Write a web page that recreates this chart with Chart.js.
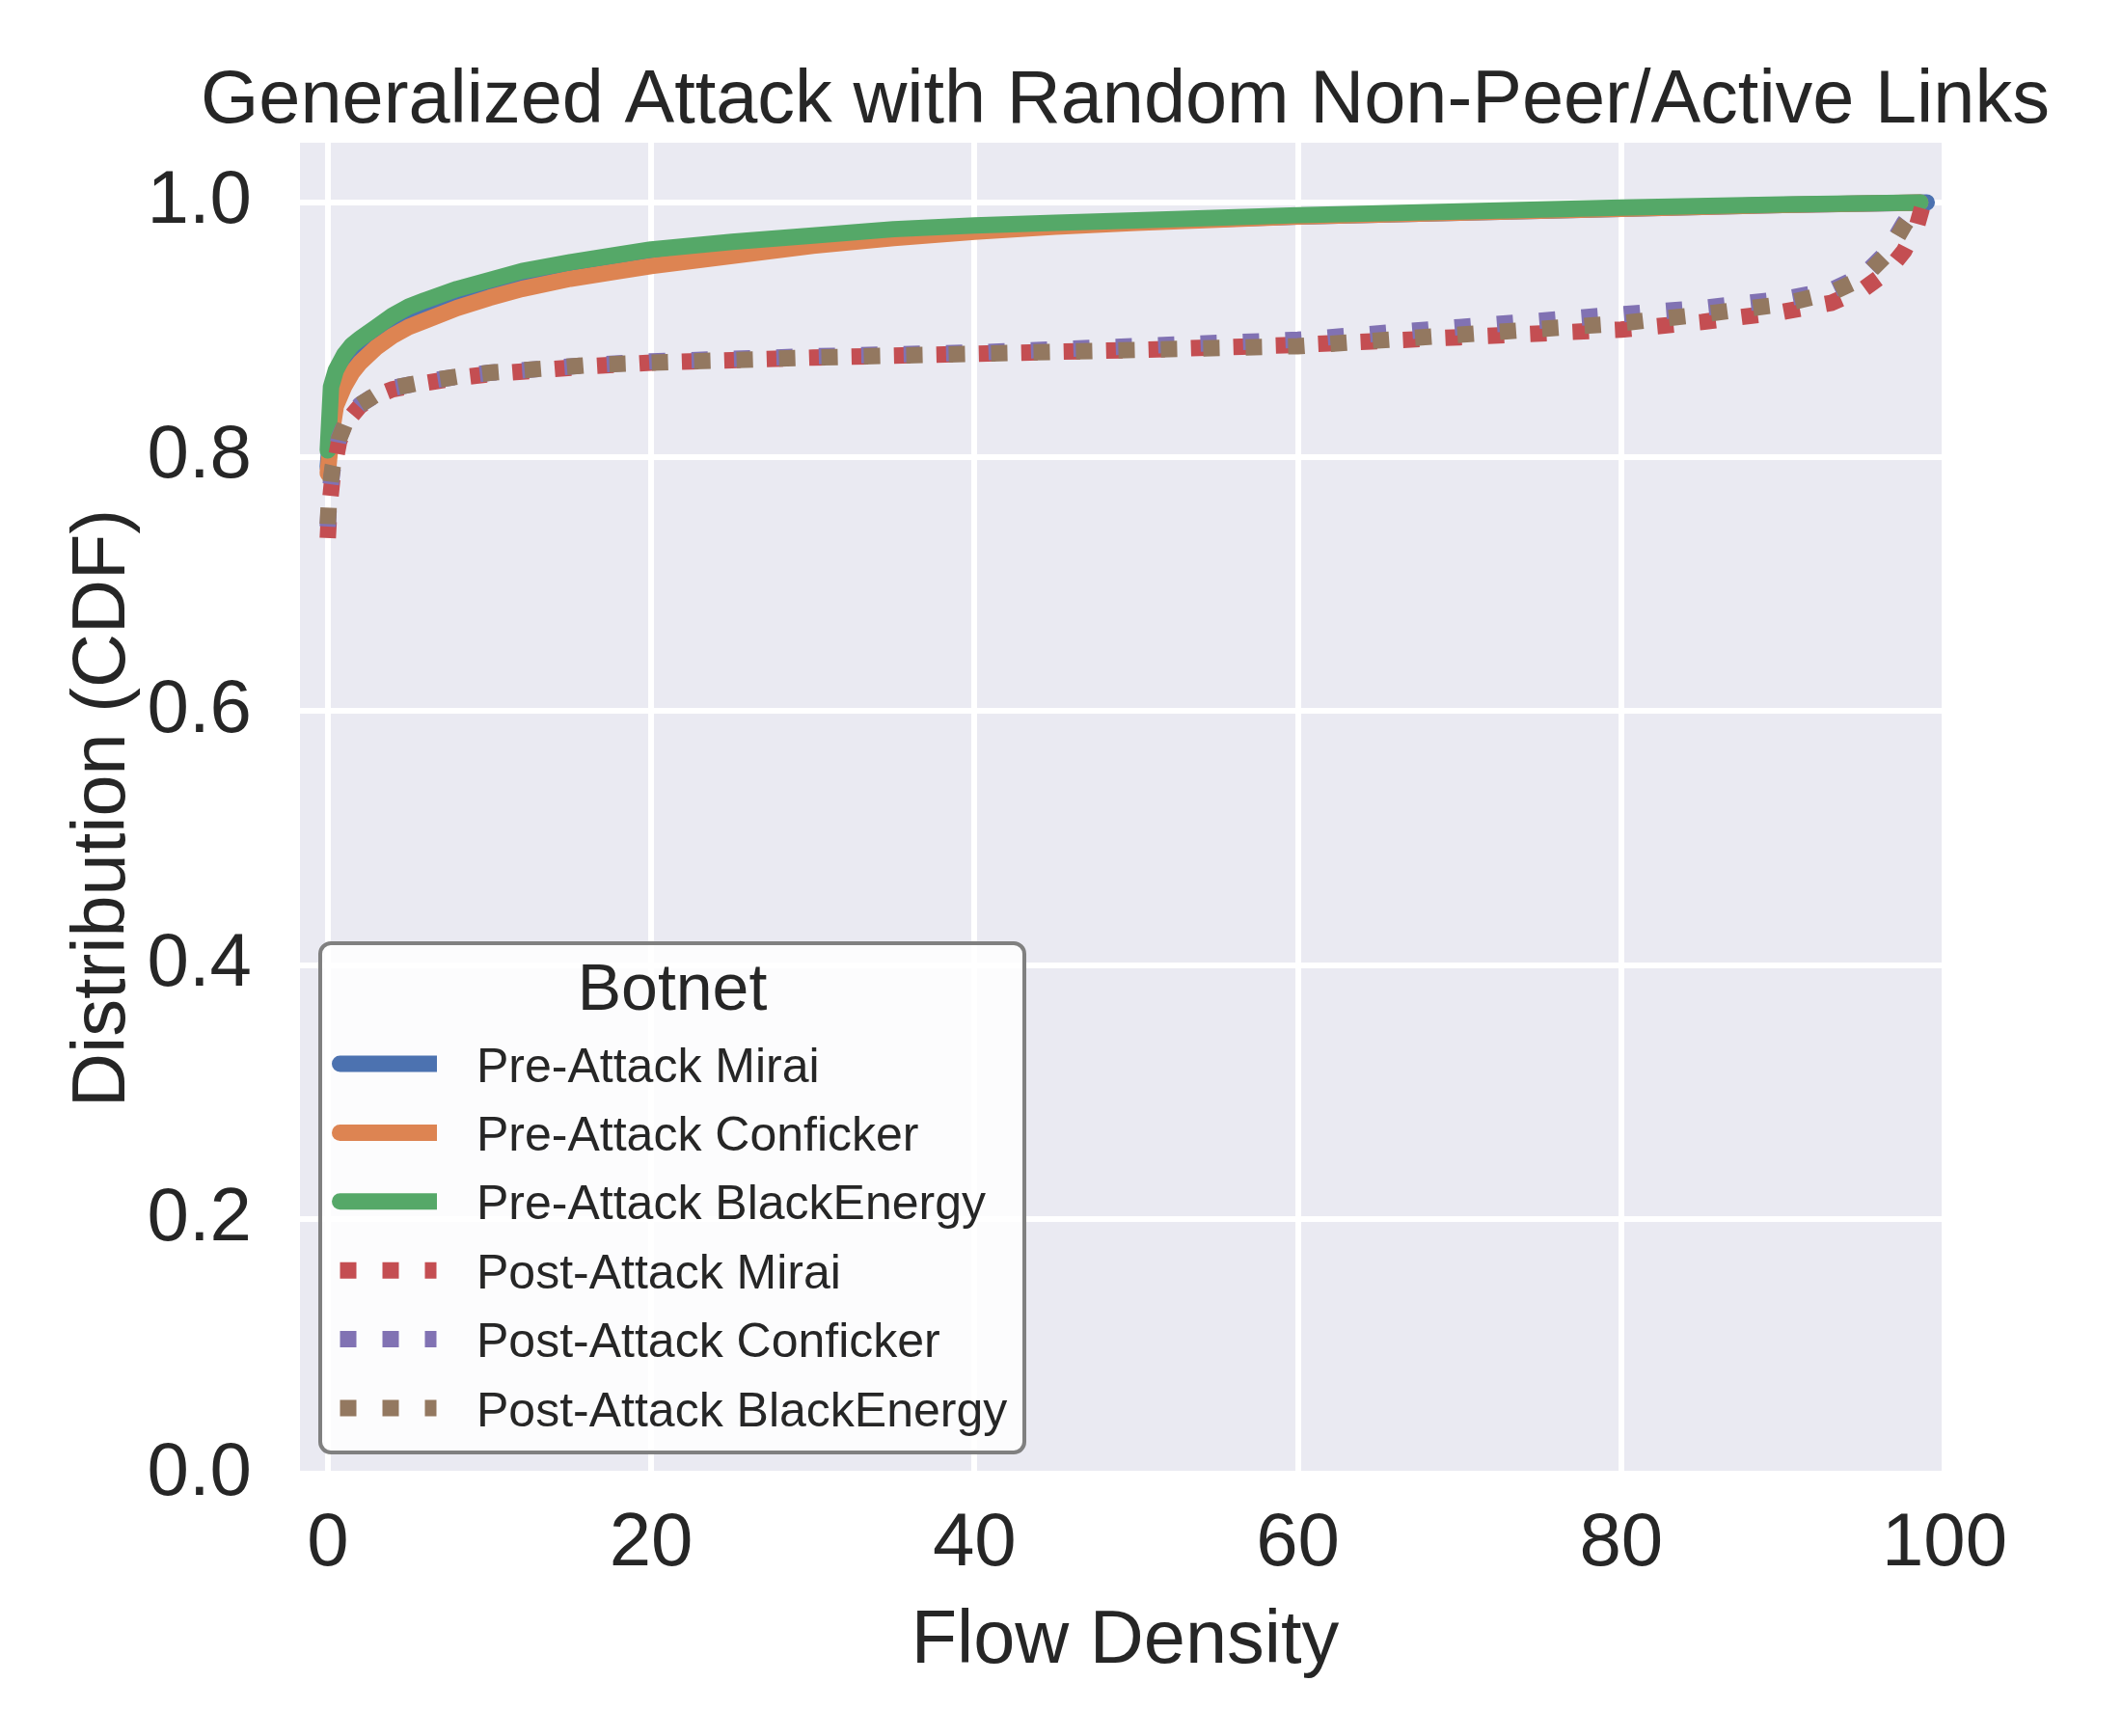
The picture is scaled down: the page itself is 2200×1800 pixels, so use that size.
<!DOCTYPE html>
<html>
<head>
<meta charset="utf-8">
<script src="https://cdn.jsdelivr.net/npm/chart.js@4.4.1/dist/chart.umd.min.js"></script>
<style>
  html, body { margin: 0; padding: 0; background: #fff; }
  canvas { display: block; }
</style>
</head>
<body>
<canvas id="cdf" width="2200" height="1800" style="width:2200px;height:1800px"></canvas>
<script>
/* ================= TEXT ================= */
const TITLE = "Generalized Attack with Random Non-Peer/Active Links";
const X_LABEL = "Flow Density";
const Y_LABEL = "Distribution (CDF)";
const LEGEND_TITLE = "Botnet";

const seriesLabels = [
  "Pre-Attack Mirai",
  "Pre-Attack Conficker",
  "Pre-Attack BlackEnergy",
  "Post-Attack Mirai",
  "Post-Attack Conficker",
  "Post-Attack BlackEnergy"
];

/* ================= TICKS ================= */
const xTicks = [0, 20, 40, 60, 80, 100];
const yTicks = [0, 0.2, 0.4, 0.6, 0.8, 1.0];

/* ================= DATA ================= */
const preX = [0, 0.2, 0.5, 1, 1.5, 2, 3, 4, 5, 6, 8, 10, 12, 15, 18, 20, 25, 30, 35, 40, 45, 50, 60, 70, 80, 90, 98.5];
const preMiraiX = [0, 0.2, 0.5, 1, 1.5, 2, 3, 4, 5, 6, 8, 10, 12, 15, 18, 20, 25, 30, 35, 40, 45, 50, 60, 70, 80, 90, 98.9];

const preMirai = [0.792, 0.822, 0.845, 0.859, 0.869, 0.877, 0.889, 0.898, 0.905, 0.910, 0.920, 0.928, 0.935, 0.943, 0.949, 0.953, 0.961, 0.968, 0.974, 0.978, 0.982, 0.985, 0.989, 0.992, 0.995, 0.998, 1.0];
const preConficker = [0.787, 0.815, 0.840, 0.855, 0.866, 0.874, 0.886, 0.895, 0.902, 0.907, 0.917, 0.925, 0.932, 0.940, 0.946, 0.950, 0.958, 0.966, 0.972, 0.977, 0.981, 0.984, 0.989, 0.992, 0.995, 0.998, 1.0];
const preBlackEnergy = [0.805, 0.855, 0.868, 0.880, 0.888, 0.893, 0.902, 0.911, 0.918, 0.923, 0.932, 0.939, 0.946, 0.953, 0.959, 0.963, 0.969, 0.974, 0.979, 0.982, 0.984, 0.986, 0.990, 0.993, 0.996, 0.9985, 1.0];

const postX = [0, 0.1, 0.3, 0.7, 1.2, 2, 3, 4, 6, 8, 10, 13, 16, 20, 25, 30, 40, 50, 60, 70, 80, 85, 90, 93, 95, 96.5, 97.5, 98.5];
const postMiraiX = [0, 0.1, 0.3, 0.7, 1.2, 2, 3, 4, 6, 8, 10, 13, 16, 20, 25, 30, 40, 50, 60, 70, 80, 85, 90, 93, 95, 96.5, 97.5, 98.3, 98.7];

const postMirai = [0.736, 0.760, 0.785, 0.812, 0.828, 0.840, 0.848, 0.853, 0.858, 0.862, 0.865, 0.868, 0.871, 0.874, 0.876, 0.878, 0.881, 0.884, 0.888, 0.894, 0.900, 0.906, 0.914, 0.921, 0.932, 0.946, 0.962, 0.982, 1.0];
const postConficker = [0.745, 0.770, 0.790, 0.815, 0.830, 0.841, 0.849, 0.854, 0.859, 0.863, 0.866, 0.869, 0.872, 0.875, 0.877, 0.879, 0.882, 0.887, 0.892, 0.902, 0.912, 0.917, 0.924, 0.931, 0.943, 0.962, 0.984, 1.0];
const postBlackEnergy = [0.747, 0.772, 0.792, 0.814, 0.830, 0.841, 0.849, 0.854, 0.859, 0.863, 0.866, 0.869, 0.872, 0.874, 0.876, 0.878, 0.881, 0.884, 0.887, 0.896, 0.905, 0.912, 0.920, 0.929, 0.941, 0.960, 0.982, 1.0];

/* ================= STYLE ================= */
const FONT = "'Liberation Sans', Arial, Helvetica, sans-serif";
const TEXT_COLOR = "#262626";
const PANEL_BG = "#EAEAF2";
const colors = ["#4C72B0", "#DD8452", "#55A868", "#C44E52", "#8172B3", "#937860"];
const LINE_W = 17;
const DOTS = [17, 27];

function pts(xs, ys) {
  return xs.map((x, i) => ({ x: x, y: ys[i] }));
}

const seriesData = [
  pts(preMiraiX, preMirai),
  pts(preX, preConficker),
  pts(preX, preBlackEnergy),
  pts(postMiraiX, postMirai),
  pts(postX, postConficker),
  pts(postX, postBlackEnergy)
];

const datasets = seriesData.map((data, i) => {
  const dotted = i >= 3;
  return {
    label: seriesLabels[i],
    data: data,
    borderColor: colors[i],
    backgroundColor: colors[i],
    borderWidth: LINE_W,
    borderDash: dotted ? DOTS : [],
    borderCapStyle: dotted ? "butt" : "round",
    borderJoinStyle: dotted ? "miter" : "round",
    pointRadius: 0,
    tension: 0,
    fill: false,
    order: 5 - i   // later series on top, like matplotlib
  };
});

/* ================= PANEL + TEXT + LEGEND ================= */
const panelPlugin = {
  id: "panel",
  beforeDraw(chart) {
    const { ctx, chartArea: a } = chart;
    ctx.save();
    ctx.fillStyle = "#ffffff";
    ctx.fillRect(0, 0, chart.width, chart.height);
    ctx.fillStyle = PANEL_BG;
    ctx.fillRect(a.left, a.top, a.right - a.left, a.bottom - a.top);
    ctx.restore();
  },
  afterDraw(chart) {
    const { ctx, chartArea: a } = chart;
    const cx = (a.left + a.right) / 2 + 3;

    ctx.save();
    ctx.fillStyle = TEXT_COLOR;
    ctx.textBaseline = "alphabetic";
    ctx.textAlign = "center";

    // title
    ctx.font = `77.5px ${FONT}`;
    ctx.fillText(TITLE, cx, 127);

    // x label
    ctx.fillText(X_LABEL, cx, 1724);

    // y label
    ctx.save();
    ctx.translate(129, (a.top + a.bottom) / 2);
    ctx.rotate(-Math.PI / 2);
    ctx.fillText(Y_LABEL, 0, 0);
    ctx.restore();

    // legend box
    const box = { left: 332, top: 978, right: 1062, bottom: 1506 };
    ctx.beginPath();
    ctx.roundRect(box.left, box.top, box.right - box.left, box.bottom - box.top, 11);
    ctx.fillStyle = "rgba(255,255,255,0.85)";
    ctx.fill();
    ctx.lineWidth = 4;
    ctx.strokeStyle = "#808080";
    ctx.stroke();

    ctx.fillStyle = TEXT_COLOR;
    ctx.font = `68px ${FONT}`;
    ctx.textAlign = "center";
    ctx.fillText(LEGEND_TITLE, (box.left + box.right) / 2, 1047);

    ctx.font = `50px ${FONT}`;
    ctx.textAlign = "left";
    chart.data.datasets.forEach((ds, i) => {
      const y = 1103 + i * 71.4;
      ctx.save();
      ctx.beginPath();
      ctx.rect(344, y - 20, 109, 40);
      ctx.clip();
      ctx.beginPath();
      ctx.strokeStyle = ds.borderColor;
      ctx.lineWidth = LINE_W;
      ctx.lineCap = ds.borderCapStyle;
      ctx.setLineDash(ds.borderDash);
      ctx.moveTo(352.5, y);
      ctx.lineTo(452.5, y);
      ctx.stroke();
      ctx.restore();
      ctx.fillStyle = TEXT_COLOR;
      ctx.fillText(ds.label, 494, y + 18.5);
    });

    ctx.restore();
  }
};

/* ================= CHART ================= */
const ctx = document.getElementById("cdf").getContext("2d");

const cdfChart = new Chart(ctx, {
  type: "line",
  data: { datasets: datasets },
  options: {
    responsive: false,
    animation: false,
    devicePixelRatio: 1,
    layout: { padding: { left: 0, top: 148, right: 184, bottom: 0 } },
    plugins: {
      legend: { display: false },
      title: { display: false },
      tooltip: { enabled: false }
    },
    scales: {
      x: {
        type: "linear",
        min: -1.72,
        max: 100,
        afterFit(scale) { scale.height = 272; },
        afterBuildTicks(scale) { scale.ticks = xTicks.map(v => ({ value: v })); },
        grid: { color: "#ffffff", lineWidth: 6, drawTicks: false },
        border: { display: false },
        ticks: {
          padding: 27,
          color: TEXT_COLOR,
          font: { family: FONT, size: 78 },
          maxRotation: 0,
          callback: v => String(v)
        }
      },
      y: {
        type: "linear",
        min: 0,
        max: 1.047,
        afterFit(scale) { scale.width = 311; },
        afterBuildTicks(scale) { scale.ticks = yTicks.map(v => ({ value: v })); },
        grid: { color: "#ffffff", lineWidth: 6, drawTicks: false },
        border: { display: false },
        ticks: {
          padding: 50,
          color: TEXT_COLOR,
          font: { family: FONT, size: 78 },
          callback: v => v.toFixed(1)
        }
      }
    }
  },
  plugins: [panelPlugin]
});
</script>
</body>
</html>
